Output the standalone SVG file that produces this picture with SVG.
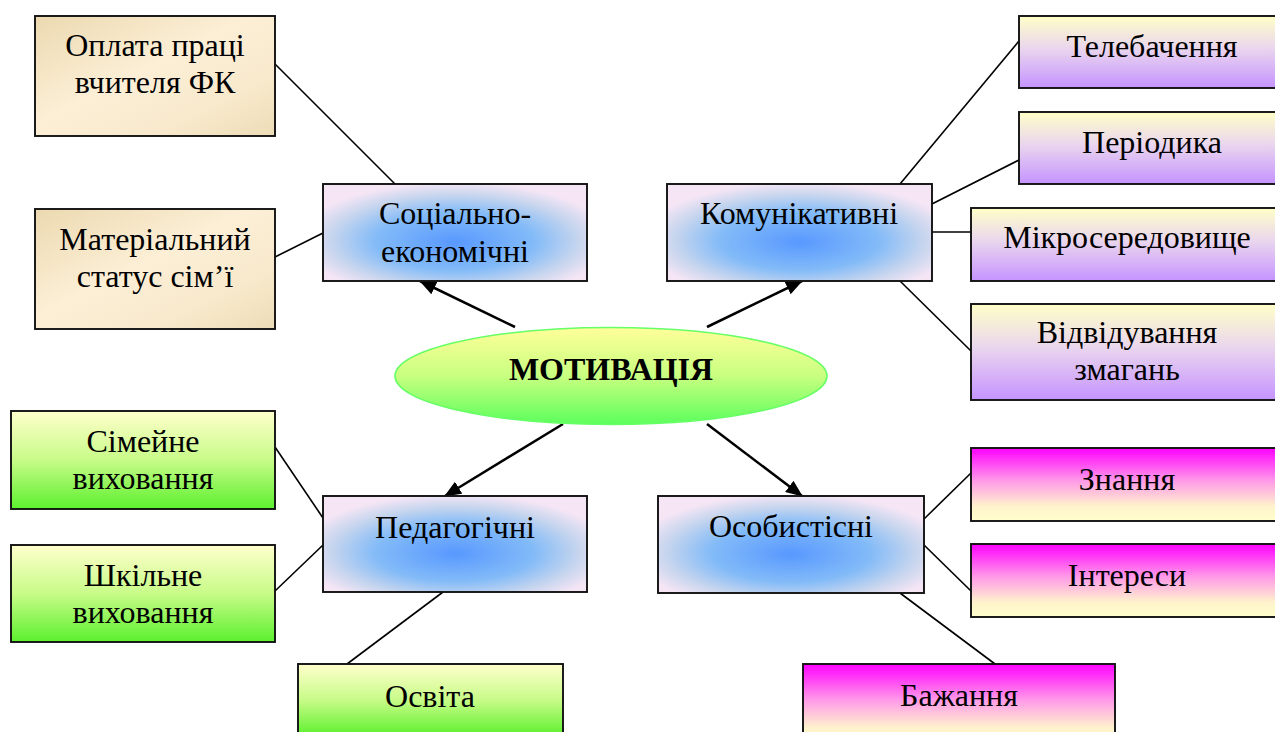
<svg xmlns="http://www.w3.org/2000/svg" width="1275" height="732" viewBox="0 0 1275 732">
<style>
.box{stroke:#111;stroke-width:1.9}
.t{font-family:"Liberation Serif","Times New Roman",serif;font-size:32px;fill:#000;text-anchor:middle}
.tb{font-family:"Liberation Serif","Times New Roman",serif;font-size:32px;font-weight:bold;fill:#000;text-anchor:middle}
.con{stroke:#000;stroke-width:1.6;fill:none}
.arr{stroke:#000;stroke-width:2.5;fill:none;marker-end:url(#ah)}
</style>
<defs>
<marker id="ah" markerWidth="17" markerHeight="14" refX="16" refY="7" orient="auto" markerUnits="userSpaceOnUse">
<path d="M0,0 L17,7 L0,14 Z" fill="#000"/>
</marker>
<linearGradient id="gTan" x1="0" y1="0" x2="1" y2="1">
<stop offset="0" stop-color="#ecd9b0"/>
<stop offset="0.45" stop-color="#fcefd6"/>
<stop offset="0.75" stop-color="#f8e9cc"/>
<stop offset="1" stop-color="#ecdcb6"/>
</linearGradient>
<radialGradient id="gBlue" cx="0.5" cy="0.58" r="0.6" fx="0.5" fy="0.6">
<stop offset="0" stop-color="#5898ff"/>
<stop offset="0.5" stop-color="#83bbf8"/>
<stop offset="0.78" stop-color="#c6d5ee"/>
<stop offset="1" stop-color="#f6e6f5"/>
</radialGradient>
<linearGradient id="gLav" x1="0" y1="0" x2="0" y2="1">
<stop offset="0" stop-color="#ffffc8"/>
<stop offset="0.45" stop-color="#ead6ee"/>
<stop offset="1" stop-color="#c593ff"/>
</linearGradient>
<linearGradient id="gGreen" x1="0" y1="0" x2="0" y2="1">
<stop offset="0" stop-color="#ffffcc"/>
<stop offset="0.5" stop-color="#c8fb88"/>
<stop offset="1" stop-color="#5cf02e"/>
</linearGradient>
<linearGradient id="gMag" x1="0" y1="0" x2="0" y2="1">
<stop offset="0" stop-color="#ff00ff"/>
<stop offset="0.45" stop-color="#ff9ae8"/>
<stop offset="0.8" stop-color="#fff3cc"/>
<stop offset="1" stop-color="#ffffcc"/>
</linearGradient>
<linearGradient id="gEll" x1="0" y1="0" x2="0" y2="1">
<stop offset="0" stop-color="#ffff99"/>
<stop offset="0.5" stop-color="#c8ff80"/>
<stop offset="1" stop-color="#5cff5c"/>
</linearGradient>
</defs>

<g id="connectors">
<line class="con" x1="275" y1="64" x2="395" y2="184"/>
<line class="con" x1="275" y1="257" x2="323" y2="233"/>
<line class="con" x1="900" y1="184" x2="1019" y2="41"/>
<line class="con" x1="924" y1="208" x2="1019" y2="160"/>
<line class="con" x1="924" y1="232" x2="971" y2="232"/>
<line class="con" x1="900" y1="281" x2="971" y2="351"/>
<line class="con" x1="275" y1="447" x2="323" y2="518"/>
<line class="con" x1="275" y1="591" x2="323" y2="545"/>
<line class="con" x1="443" y1="592" x2="347" y2="664"/>
<line class="con" x1="924" y1="519" x2="971" y2="473"/>
<line class="con" x1="924" y1="545" x2="971" y2="591"/>
<line class="con" x1="900" y1="593" x2="995" y2="664"/>
<line class="arr" x1="515" y1="327" x2="420" y2="281"/>
<line class="arr" x1="707" y1="327" x2="802" y2="281"/>
<line class="arr" x1="563" y1="424" x2="445" y2="496"/>
<line class="arr" x1="707" y1="424" x2="802" y2="496"/>
</g>

<g id="n-oplata">
<rect class="box" x="35" y="16" width="240" height="120" fill="url(#gTan)"/>
<text class="t" x="155" y="56">Оплата праці</text>
<text class="t" x="155" y="93">вчителя ФК</text>
</g>
<g id="n-material">
<rect class="box" x="35" y="209" width="240" height="120" fill="url(#gTan)"/>
<text class="t" x="155" y="250">Матеріальний</text>
<text class="t" x="155" y="287">статус сім’ї</text>
</g>
<g id="n-social">
<rect class="box" x="323" y="184" width="264" height="97" fill="url(#gBlue)"/>
<text class="t" x="455" y="224">Соціально-</text>
<text class="t" x="455" y="262">економічні</text>
</g>
<g id="n-komun">
<rect class="box" x="667" y="184" width="265" height="97" fill="url(#gBlue)"/>
<text class="t" x="799" y="224">Комунікативні</text>
</g>
<g id="n-tele">
<rect class="box" x="1019" y="16" width="268" height="72" fill="url(#gLav)"/>
<text class="t" x="1152" y="57">Телебачення</text>
</g>
<g id="n-period">
<rect class="box" x="1019" y="112" width="268" height="72" fill="url(#gLav)"/>
<text class="t" x="1152" y="153">Періодика</text>
</g>
<g id="n-mikro">
<rect class="box" x="971" y="208" width="314" height="73" fill="url(#gLav)"/>
<text class="t" x="1127" y="248">Мікросередовище</text>
</g>
<g id="n-vidv">
<rect class="box" x="971" y="304" width="314" height="96" fill="url(#gLav)"/>
<text class="t" x="1127" y="343">Відвідування</text>
<text class="t" x="1127" y="380">змагань</text>
</g>
<g id="n-motiv">
<ellipse cx="611" cy="376" rx="216" ry="48.5" fill="url(#gEll)" stroke="#66ff66" stroke-width="1.6"/>
<text class="tb" x="611" y="380">МОТИВАЦІЯ</text>
</g>
<g id="n-simeyne">
<rect class="box" x="11" y="411" width="264" height="98" fill="url(#gGreen)"/>
<text class="t" x="143" y="452">Сімейне</text>
<text class="t" x="143" y="489">виховання</text>
</g>
<g id="n-shkilne">
<rect class="box" x="11" y="545" width="264" height="97" fill="url(#gGreen)"/>
<text class="t" x="143" y="586">Шкільне</text>
<text class="t" x="143" y="623">виховання</text>
</g>
<g id="n-pedag">
<rect class="box" x="323" y="496" width="264" height="96" fill="url(#gBlue)"/>
<text class="t" x="455" y="538">Педагогічні</text>
</g>
<g id="n-osvita">
<rect class="box" x="298" y="664" width="265" height="72" fill="url(#gGreen)"/>
<text class="t" x="430" y="707">Освіта</text>
</g>
<g id="n-osob">
<rect class="box" x="658" y="496" width="266" height="97" fill="url(#gBlue)"/>
<text class="t" x="791" y="537">Особистісні</text>
</g>
<g id="n-znannya">
<rect class="box" x="971" y="448" width="314" height="73" fill="url(#gMag)"/>
<text class="t" x="1127" y="490">Знання</text>
</g>
<g id="n-interesy">
<rect class="box" x="971" y="544" width="314" height="73" fill="url(#gMag)"/>
<text class="t" x="1127" y="586">Інтереси</text>
</g>
<g id="n-bazhannya">
<rect class="box" x="803" y="664" width="312" height="80" fill="url(#gMag)"/>
<text class="t" x="959" y="706">Бажання</text>
</g>
</svg>
